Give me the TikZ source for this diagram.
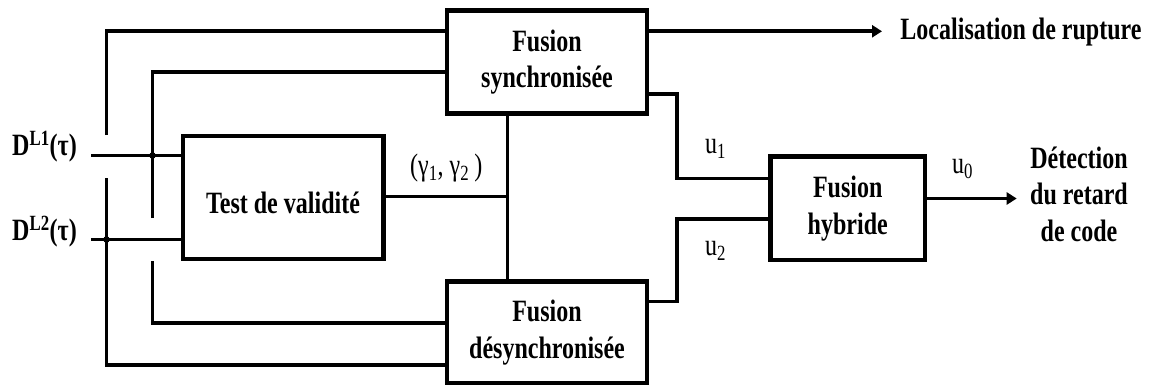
\documentclass[tikz,border=0pt]{standalone}
\usepackage{fontspec}
\setmainfont{Liberation Serif}[FakeStretch=0.775]
\usetikzlibrary{arrows.meta}
\begin{document}
\begin{tikzpicture}[x=1pt,y=-1pt,
  box/.style={draw, line width=4.5pt, rectangle, inner sep=0pt},
  ln/.style={line width=3.6pt},
  thinln/.style={line width=3pt},
  arr/.style={-{Triangle[length=10pt,width=12pt]}},
  txt/.style={inner sep=0pt, font=\fontsize{31}{36.5}\selectfont\bfseries, align=center},
  rtxt/.style={inner sep=0pt, font=\fontsize{31}{36}\selectfont}]
\useasboundingbox (0,0) rectangle (1155,385);
% boxes
\node[box, minimum width=200, minimum height=103] (syn) at (547,62) {};
\node[box, minimum width=200, minimum height=101.5] (des) at (547,332.25) {};
\node[box, minimum width=200.5, minimum height=123] (test) at (283.25,197.5) {};
\node[box, minimum width=154.5, minimum height=103.5] (hyb) at (847.75,208.25) {};
% coordinates
\coordinate (o1) at (106.5,135);
\coordinate (o2) at (106.5,178);
\coordinate (i1) at (152.5,218);
\coordinate (i2) at (152.5,261);
\coordinate (in1) at (91,155.5);
\coordinate (in2) at (91,239.5);
\coordinate (j1) at (152.5,155.5);
\coordinate (j2) at (106.5,239.5);
\coordinate (ya) at (0,31.3);
\coordinate (yb) at (0,72);
\coordinate (yc) at (0,323);
\coordinate (yd) at (0,365);
\coordinate (ye) at (0,94);
\coordinate (yf) at (0,301.5);
\coordinate (lk) at (507.5,196.5);
\coordinate (m1) at (677,178.5);
\coordinate (m2) at (677,219);
\coordinate (t1) at (882,31.3);
\coordinate (t2) at (1016.7,198.5);
% connectors
\draw[ln] (o1) |- (syn.west |- ya);
\draw[ln] (i1) |- (syn.west |- yb);
\draw[ln] (in1) -- (test.west |- in1);
\draw[ln] (in2) -- (test.west |- in2);
\draw[ln] (i2) |- (des.west |- yc);
\draw[ln] (o2) |- (des.west |- yd);
\fill (j1) circle (3.3pt);
\fill (j2) circle (3.3pt);
\draw[ln] (test.east |- lk) -- (lk);
\draw[thinln] (syn.south -| lk) -- (des.north -| lk);
\draw[ln] (syn.east |- ye) -| (m1) -- (hyb.west |- m1);
\draw[ln] (des.east |- yf) -| (m2) -- (hyb.west |- m2);
\draw[ln, arr] (syn.east |- ya) -- (t1);
\draw[ln, arr] (hyb.east |- t2) -- (t2);
% texts
\node[txt, anchor=base west] (dl1) at (12,155) {D\textsuperscript{L1}(τ)};
\node[txt, anchor=base west] (dl2) at (12,240) {D\textsuperscript{L2}(τ)};
\node[txt, anchor=base] (testl) at (283,213) {Test de validité};
\node[txt, anchor=base] (synl) at (547,88) {Fusion\\synchronisée};
\node[txt, anchor=base] (desl) at (547,358) {Fusion\\désynchronisée};
\node[txt, anchor=base] (hybl) at (847.75,234) {Fusion\\hybride};
\node[txt, anchor=base] (loc) at (1021,40) {Localisation de rupture};
\node[txt, anchor=base] (det) at (1079,241) {Détection\\du retard\\de code};
\node[rtxt, anchor=base west] (u1) at (705,153) {u\textsubscript{1}};
\node[rtxt, anchor=base west] (u2) at (705,255) {u\textsubscript{2}};
\node[rtxt, anchor=base west] (u0) at (952,173) {u\textsubscript{0}};
\node[rtxt, anchor=base west] (gam) at (410,175) {(γ\textsubscript{1}, γ\textsubscript{2}\,)};
\end{tikzpicture}
\end{document}
